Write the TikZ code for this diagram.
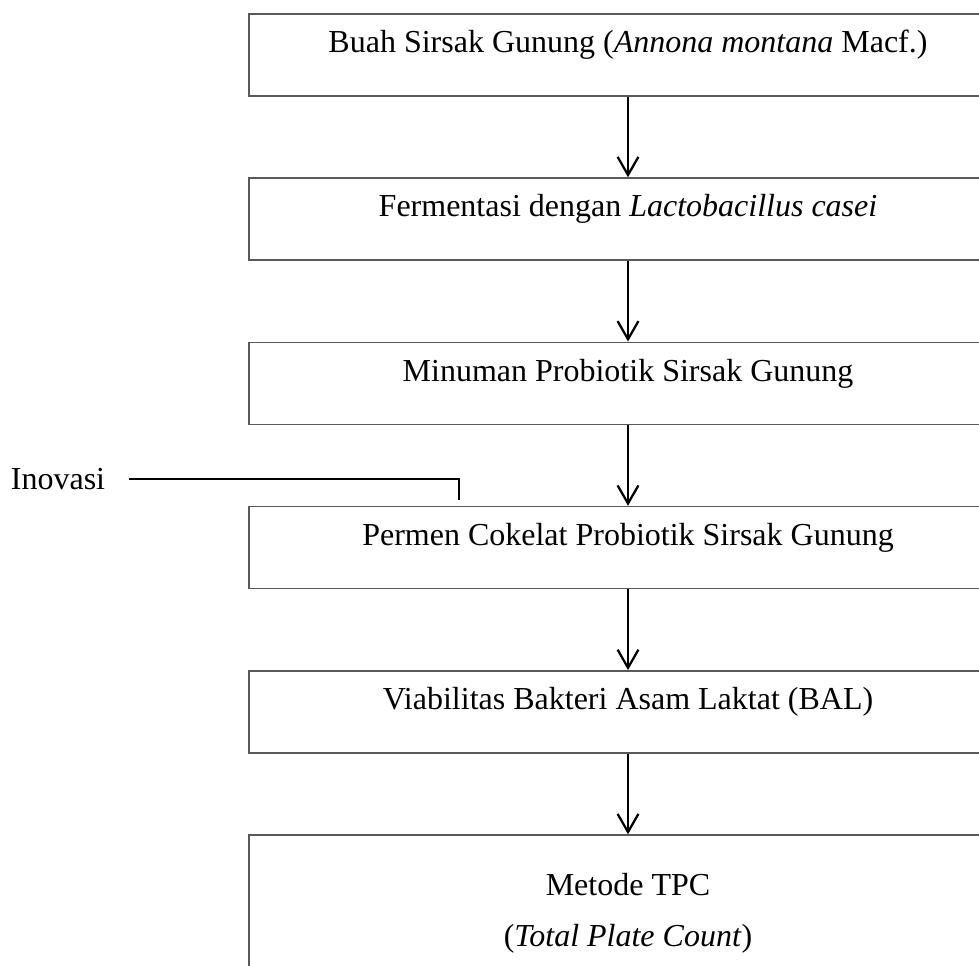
\documentclass[tikz,border=0pt]{standalone}
\usepackage{fontspec}
\setmainfont{Liberation Serif}
\usetikzlibrary{arrows.meta, positioning}

\begin{document}
\begin{tikzpicture}
    [
        x=0.375pt, y=-0.375pt,
        node distance=30.25pt, font=\fontsize{12}{14.4}\selectfont,
        box/.style={draw=black!65, line width=0.6pt, inner sep=0pt, minimum width=284.25pt, text height=14.6pt, text depth=16.15pt},
        bigbox/.style={box, text height=41.6pt, text depth=34pt, align=center}
    ]
    \tikzstyle{line} = [draw, line width=0.85pt, -{Straight Barb[length=6.8pt, width=7.8pt]}]
    \tikzstyle{link} = [draw, line width=0.6pt]

    \clip (0,0) rectangle (979,965);

    % Boxes, top to bottom
    \node[box, anchor=north] (buah) at (628,13) {Buah Sirsak Gunung (\textit{Annona montana} Macf.)};
    \node[box, below=of buah] (fermentasi) {Fermentasi dengan \textit{Lactobacillus casei}};
    \node[box, below=of fermentasi] (minuman) {Minuman Probiotik Sirsak Gunung};
    \node[box, below=of minuman] (permen) {Permen Cokelat Probiotik Sirsak Gunung};
    \node[box, below=of permen] (viabilitas) {Viabilitas Bakteri Asam Laktat (BAL)};
    \node[bigbox, below=of viabilitas] (tpc) {Metode TPC\\[4.7pt](\textit{Total Plate Count})};
    \path[line] (buah) -- (fermentasi);
    \path[line] (fermentasi) -- (minuman);
    \path[line] (minuman) -- (permen);
    \path[line] (permen) -- (viabilitas);
    \path[line] (viabilitas) -- (tpc);

    % Inovasi side note
    \node[inner xsep=8.6pt] (inovasi) at (58,479) {Inovasi};
    \coordinate (inovasi_end) at (459,500);
    \path[link] (inovasi.east) -| (inovasi_end);
\end{tikzpicture}
\end{document}
